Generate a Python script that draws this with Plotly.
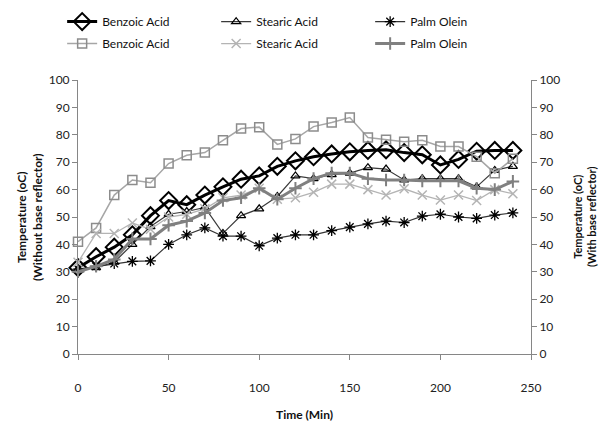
import plotly.graph_objects as go

# Sampling times (minutes)
time_min = [0, 10, 20, 30, 40, 50, 60, 70, 80, 90, 100, 110, 120,
            130, 140, 150, 160, 170, 180, 190, 200, 210, 220, 230, 240]

# Temperatures (oC) without base reflector
benzoic_without = [31.5, 35.5, 39, 43.5, 50.5, 56, 54.5, 58, 61, 63.8, 65, 68.5, 70.5,
                   72, 73, 73.8, 74.3, 74.5, 73.5, 72.7, 69, 71, 74, 74.3, 74.3]
stearic_without = [31, 31.5, 33.5, 40, 46.5, 51, 52, 53.5, 44, 50.5, 53, 57.5, 65,
                   64, 65.5, 66, 68, 67.5, 63.5, 64, 64, 64, 61, 67, 68.5]
palm_without = [31, 32, 33, 33.8, 34, 40, 43.5, 46, 43, 43, 39.5, 42.3, 43.5,
                43.5, 45, 46.3, 47.5, 48.5, 48, 50.3, 51, 50, 49.5, 50.7, 51.5]

# Temperatures (oC) with base reflector
benzoic_with = [41, 46, 58, 63.5, 62.5, 69.5, 72.5, 73.5, 78, 82.3, 82.8, 76.5, 78.5,
                83, 84.5, 86.3, 79, 78.2, 77.5, 78, 75.7, 75.7, 72, 66, 71.3]
stearic_with = [33.5, 44, 44, 47.8, 45.5, 50, 51, 53, 57, 58, 60.5, 56.5, 57,
                59, 62, 62, 60, 58, 60.3, 58, 56.2, 58, 56, 60, 58.5]
palm_with = [30, 32, 34.5, 42, 42, 47, 48.5, 51.5, 56, 57, 60.5, 56.5, 60.5,
             64, 66, 66, 64, 63.5, 63.5, 63.2, 63.2, 63.2, 60.5, 60, 63]

AXIS = "#868686"
FONT = "Lato"

fig = go.Figure()


def add(y, name, yaxis, legend, line, marker):
    fig.add_trace(go.Scatter(
        x=time_min, y=y, name=name, yaxis=yaxis, legend=legend,
        mode="lines+markers", line=line, marker=marker, cliponaxis=False,
    ))


# first legend row: without reflector
add(benzoic_without, "Benzoic Acid", "y", "legend",
    dict(color="#000000", width=3),
    dict(symbol="diamond-open", size=13, color="#000000", line=dict(width=2)))
add(stearic_without, "Stearic Acid", "y", "legend",
    dict(color="#3a3a3a", width=1.2),
    dict(symbol="triangle-up-open", size=8, color="#000000", line=dict(width=1.2)))
add(palm_without, "Palm Olein", "y", "legend",
    dict(color="#333333", width=1.2),
    dict(symbol="asterisk-open", size=9, color="#000000", line=dict(width=1.3)))

# second legend row: with reflector
add(benzoic_with, "Benzoic Acid", "y2", "legend2",
    dict(color="#a6a6a6", width=1.5),
    dict(symbol="square-open", size=9, color="#8c8c8c", line=dict(width=1.5)))
add(stearic_with, "Stearic Acid", "y2", "legend2",
    dict(color="#b4b4b4", width=1.3),
    dict(symbol="x-thin-open", size=9, color="#b4b4b4", line=dict(width=1.5)))
add(palm_with, "Palm Olein", "y2", "legend2",
    dict(color="#808080", width=3),
    dict(symbol="cross-thin-open", size=9, color="#808080", line=dict(width=2)))

axis_common = dict(
    showline=True, linecolor=AXIS, linewidth=1, ticks="outside", ticklen=5,
    tickcolor=AXIS, showgrid=False, zeroline=False,
    tickfont=dict(family=FONT, size=12, color="#222222"),
)

legend_common = dict(
    orientation="h", x=-0.035, xanchor="left", yanchor="top",
    entrywidth=109, entrywidthmode="pixels", traceorder="normal",
    font=dict(family=FONT, size=12, color="#111111"),
    bgcolor="rgba(0,0,0,0)",
)

fig.update_layout(
    width=603, height=422,
    margin=dict(l=78, r=72, t=80, b=68, autoexpand=False),
    paper_bgcolor="white", plot_bgcolor="white",
    font=dict(family=FONT, size=12, color="#111111"),
    xaxis=dict(range=[0, 250], dtick=50, ticklabelstandoff=18,
               title=dict(text="<b>Time (Min)</b>", standoff=18,
                          font=dict(family=FONT, size=12)),
               **axis_common),
    yaxis=dict(range=[0, 100], dtick=10, **axis_common),
    yaxis2=dict(range=[0, 100], dtick=10, overlaying="y", side="right",
                anchor="x", **axis_common),
    legend=dict(y=1.266, **legend_common),
    legend2=dict(y=1.186, **legend_common),
    showlegend=True,
    annotations=[
        dict(text="<b>Temperature (oC)<br>(Without base reflector)</b>",
             xref="paper", yref="paper", x=-0.108, y=0.5, xanchor="center",
             yanchor="middle", textangle=-90, showarrow=False,
             font=dict(family=FONT, size=12, color="#111111")),
        dict(text="<b>Temperature (oC)<br>(With base reflector)</b>",
             xref="paper", yref="paper", x=1.117, y=0.5, xanchor="center",
             yanchor="middle", textangle=-90, showarrow=False,
             font=dict(family=FONT, size=11, color="#111111")),
    ],
)

fig.write_html("out.html")
